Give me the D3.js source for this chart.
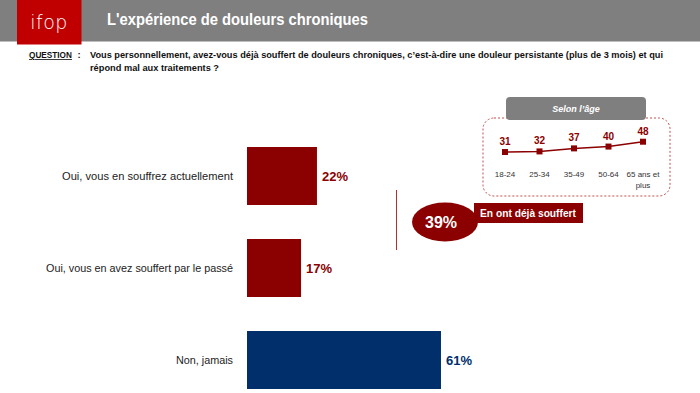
<!DOCTYPE html>
<html><head><meta charset="utf-8">
<script src="https://cdn.jsdelivr.net/npm/d3@7"></script>
<style>body{margin:0;background:#fff}svg{display:block}text{font-family:"Liberation Sans",Arial,sans-serif}</style>
</head><body>
<script>
const categories = ["Oui, vous en souffrez actuellement","Oui, vous en avez souffert par le passé","Non, jamais"];
const values = [22,17,61];
const barColors = ["#8b0000","#8b0000","#002f6b"];
const ageGroups = ["18-24","25-34","35-49","50-64","65 ans et plus"];
const ageValues = [31,32,37,40,48];
const totalLabel = "39%";
const totalText = "En ont déjà souffert";
const titleText = "L'expérience de douleurs chroniques";
const questionLines = ["Vous personnellement, avez-vous déjà souffert de douleurs chroniques, c’est-à-dire une douleur persistante (plus de 3 mois) et qui","répond mal aux traitements ?"];

const W=700,H=393;
const svg=d3.select("body").append("svg").attr("width",W).attr("height",H);
function fit(sel,w){const n=sel.node();const l=n.getComputedTextLength();if(Math.abs(l-w)>1){sel.attr("textLength",w).attr("lengthAdjust","spacingAndGlyphs");}return sel;}
function fitSize(sel,w,fs){sel.style("font-size",fs+"px");const l=sel.node().getComputedTextLength();if(l>w)sel.style("font-size",(fs*w/l)+"px");return sel;}

// header
svg.append("rect").attr("x",0).attr("y",0).attr("width",W).attr("height",41.5).attr("fill","#7f7f7f");
svg.append("rect").attr("x",17).attr("y",0).attr("width",64.5).attr("height",44.5).attr("fill","#c00000");
svg.append("text").attr("x",49).attr("y",29).attr("text-anchor","middle").attr("fill","#fff")
  .style("font-family","'DejaVu Sans',sans-serif").style("font-weight",200).style("font-size","19px").style("letter-spacing","0.5px").text("ifop");
fit(svg.append("text").attr("x",107).attr("y",25).attr("fill","#fff").style("font-weight","bold").style("font-size","16.5px").text(titleText),261);

// question
fitSize(svg.append("text").attr("x",29).attr("y",58).attr("fill","#111").style("font-weight","bold").style("text-decoration","underline").text("QUESTION"),43,9.5);
svg.append("text").attr("x",77.5).attr("y",58).attr("fill","#111").style("font-weight","bold").style("font-size","9.5px").text(":");
questionLines.forEach((t,i)=>{
  fit(svg.append("text").attr("x",90).attr("y",58+12.5*i).attr("fill","#111").style("font-weight","bold").style("font-size","9.5px").text(t),[573,129][i]);
});

// main bars
const x=d3.scaleLinear().domain([0,100]).range([247,565]);
const y=d3.scaleBand().domain(categories).range([130,406]).paddingInner(0.3696).paddingOuter(0.1848);
svg.selectAll("rect.bar").data(values).join("rect").attr("class","bar")
  .attr("x",x(0)).attr("y",(d,i)=>y(categories[i])).attr("width",d=>x(d)-x(0)).attr("height",y.bandwidth())
  .attr("fill",(d,i)=>barColors[i]);
const labW=[171,187,57];
categories.forEach((c,i)=>{
  fit(svg.append("text").attr("x",233).attr("y",y(c)+y.bandwidth()/2+4).attr("text-anchor","end").attr("fill","#222").style("font-size","11px").text(c),labW[i]);
});
svg.selectAll("text.val").data(values).join("text").attr("class","val")
  .attr("x",d=>x(d)+5).attr("y",(d,i)=>y(categories[i])+y.bandwidth()/2+5)
  .attr("fill",(d,i)=>barColors[i]).style("font-weight","bold").style("font-size","13px").text(d=>d+"%");

// total bracket
const midY=(y(categories[0])+y.bandwidth()+y(categories[1]))/2;
svg.append("line").attr("x1",396.5).attr("x2",396.5).attr("y1",midY-32).attr("y2",midY+28).attr("stroke","#b03030").attr("stroke-width",1);
svg.append("rect").attr("x",474).attr("y",203).attr("width",109).attr("height",20).attr("fill","#8b0000");
svg.append("ellipse").attr("cx",445).attr("cy",222).attr("rx",33).attr("ry",19.5).attr("fill","#8b0000");
svg.append("text").attr("x",441).attr("y",228).attr("text-anchor","middle").attr("fill","#fff").style("font-weight","bold").style("font-size","16px").text(totalLabel);
fit(svg.append("text").attr("x",480).attr("y",217).attr("fill","#fff").style("font-weight","bold").style("font-size","11px").text(totalText),96);

// age inset
svg.append("rect").attr("x",483).attr("y",118).attr("width",187).attr("height",78).attr("rx",11)
  .attr("fill","none").attr("stroke","#c0504d").attr("stroke-width",1).attr("stroke-dasharray","2,2");
svg.append("rect").attr("x",506).attr("y",97).attr("width",140).attr("height",23).attr("rx",4).attr("fill","#7f7f7f");
svg.append("text").attr("x",576).attr("y",112).attr("text-anchor","middle").attr("fill","#fff").style("font-weight","bold").style("font-style","italic").style("font-size","9px").text("Selon l’âge");
const ax=d3.scalePoint().domain(ageGroups).range([505,643]);
const ay=d3.scaleLinear().domain([0,100]).range([170.8,110.2]);
svg.append("path").datum(ageValues).attr("fill","none").attr("stroke","#8b0000").attr("stroke-width",1.5)
  .attr("d",d3.line().x((d,i)=>ax(ageGroups[i])).y(d=>ay(d)));
svg.selectAll("rect.pt").data(ageValues).join("rect").attr("class","pt")
  .attr("x",(d,i)=>ax(ageGroups[i])-3).attr("y",d=>ay(d)-3).attr("width",6).attr("height",6).attr("fill","#8b0000");
svg.selectAll("text.av").data(ageValues).join("text").attr("class","av")
  .attr("x",(d,i)=>ax(ageGroups[i])).attr("y",d=>ay(d)-7).attr("text-anchor","middle")
  .attr("fill","#8b0000").style("font-weight","bold").style("font-size","10px").text(d=>d);
ageGroups.forEach(g=>{
  const parts = g==="65 ans et plus" ? ["65 ans et","plus"] : [g];
  const t=svg.append("text").attr("x",ax(g)).attr("y",177).attr("text-anchor","middle").attr("fill","#333").style("font-size","8px");
  parts.forEach((p,j)=>t.append("tspan").attr("x",ax(g)).attr("dy",j?11:0).text(p));
});
</script>
</body></html>
